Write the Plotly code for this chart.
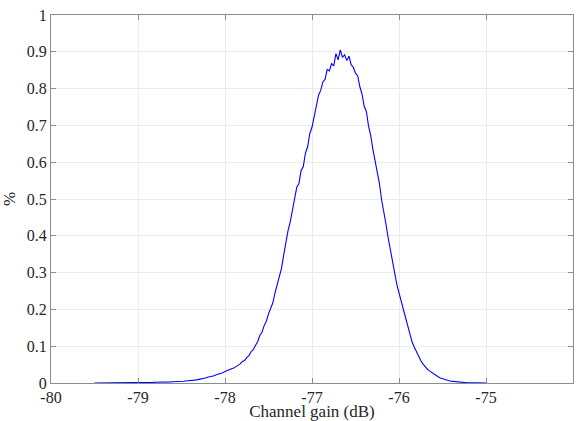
import plotly.graph_objects as go

# Histogram of channel gain (bin centres, dB) and share (%)
gain_start = -79.5
gain_step = 0.025
share = [
    0.0000, 0.0000, 0.0001, 0.0000, 0.0001, 0.0002, 0.0001, 0.0002, 0.0002, 0.0003,
    0.0002, 0.0004, 0.0003, 0.0005, 0.0004, 0.0006, 0.0007, 0.0006, 0.0009, 0.0008,
    0.0011, 0.0010, 0.0013, 0.0012, 0.0015, 0.0014, 0.0018, 0.0017, 0.0021, 0.0020,
    0.0024, 0.0023, 0.0028, 0.0027, 0.0032, 0.0031, 0.0036, 0.0035, 0.0042, 0.0040,
    0.0048, 0.0047, 0.0056, 0.0058, 0.0066, 0.0070, 0.0079, 0.0085, 0.0098, 0.0104,
    0.0128, 0.0135, 0.0158, 0.0165, 0.0190, 0.0198, 0.0225, 0.0238, 0.0262, 0.0281,
    0.0312, 0.0330, 0.0358, 0.0385, 0.0405, 0.0440, 0.0478, 0.0520, 0.0585, 0.0612,
    0.0690, 0.0745, 0.0850, 0.0905, 0.1020, 0.1120, 0.1290, 0.1380, 0.1560, 0.1680,
    0.1880, 0.2050, 0.2180, 0.2450, 0.2690, 0.2950, 0.3120, 0.3480, 0.3820, 0.4150,
    0.4380, 0.4720, 0.4980, 0.5320, 0.5420, 0.5780, 0.5880, 0.6250, 0.6420, 0.6780,
    0.6950, 0.7250, 0.7480, 0.7820, 0.7950, 0.8180, 0.8250, 0.8520, 0.8480, 0.8680,
    0.8620, 0.8950, 0.8780, 0.9050, 0.8850, 0.8920, 0.8760, 0.8880, 0.8650, 0.8580,
    0.8420, 0.8350, 0.8050, 0.7850, 0.7520, 0.7380, 0.6980, 0.6720, 0.6350, 0.6050,
    0.5700, 0.5420, 0.4980, 0.4680, 0.4320, 0.3950, 0.3620, 0.3280, 0.2950, 0.2680,
    0.2450, 0.2250, 0.2050, 0.1780, 0.1560, 0.1320, 0.1120, 0.0980, 0.0850, 0.0720,
    0.0610, 0.0520, 0.0440, 0.0380, 0.0330, 0.0285, 0.0250, 0.0205, 0.0170, 0.0135,
    0.0112, 0.0095, 0.0078, 0.0063, 0.0052, 0.0042, 0.0034, 0.0027, 0.0021, 0.0017,
    0.0013, 0.0010, 0.0008, 0.0006, 0.0004, 0.0003, 0.0002, 0.0001, 0.0001, 0.0000,
    0.0000,
]
gain = [round(gain_start + i * gain_step, 3) for i in range(len(share))]

x_ticks = [-80, -79, -78, -77, -76, -75, -74]
x_tick_text = ["-80", "-79", "-78", "-77", "-76", "-75", "-74"]
y_ticks = [0, 0.1, 0.2, 0.3, 0.4, 0.5, 0.6, 0.7, 0.8, 0.9, 1]
y_tick_text = ["0", "0.1", "0.2", "0.3", "0.4", "0.5", "0.6", "0.7", "0.8", "0.9", "1"]

FONT = "'Liberation Serif', 'DejaVu Serif', serif"
AX = "#8c8c8c"

fig = go.Figure()
fig.add_trace(go.Scatter(x=gain, y=share, mode="lines",
                         line=dict(color="#0000ff", width=1.1), showlegend=False))

axis_common = dict(showline=True, linecolor=AX, linewidth=1, mirror="ticks",
                   ticks="inside", ticklen=5, tickcolor=AX, showgrid=True,
                   gridcolor="#ebebeb", gridwidth=1, zeroline=False,
                   tickfont=dict(family=FONT, size=16, color="#262626"))

fig.update_xaxes(range=[-80, -74], tickvals=x_ticks, ticktext=x_tick_text,
                 title=dict(text="Channel gain (dB)", standoff=0,
                            font=dict(family=FONT, size=17, color="#262626")),
                 **axis_common)
fig.update_yaxes(range=[0, 1], tickvals=y_ticks, ticktext=y_tick_text,
                 title=dict(text="%", standoff=6,
                            font=dict(family=FONT, size=17, color="#262626")),
                 **axis_common)

fig.update_layout(width=581, height=421, plot_bgcolor="white", paper_bgcolor="white",
                  font=dict(family=FONT),
                  margin=dict(l=51, r=8, t=15, b=38, autoexpand=False))

fig.write_html("out.html")
